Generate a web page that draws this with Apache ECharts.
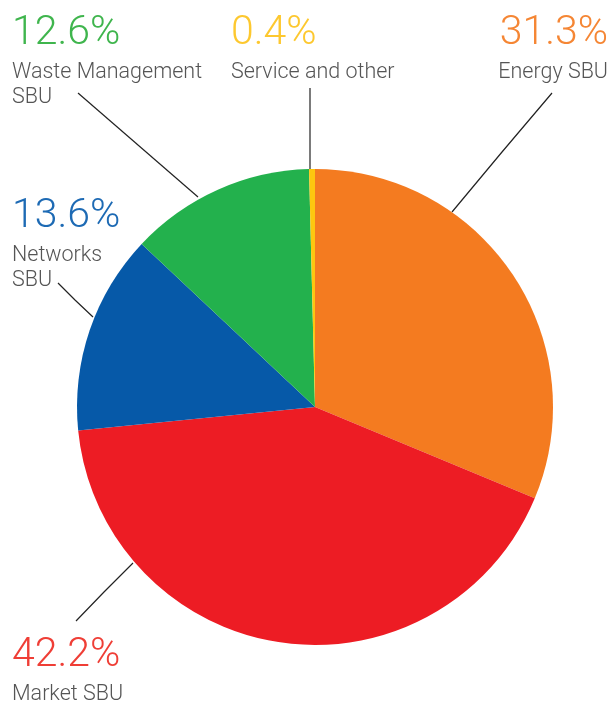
<!DOCTYPE html>
<html>
<head>
<meta charset="utf-8">
<script src="https://cdn.jsdelivr.net/npm/echarts@6/dist/echarts.min.js"></script>
<style>
  html, body { margin: 0; padding: 0; background: #fff; }
  #main { width: 614px; height: 704px; }
</style>
</head>
<body>
<div id="main"></div>
<script>
// data
const categories = ["Energy SBU", "Market SBU", "Networks SBU", "Waste Management SBU", "Service and other"];
const shares = [31.3, 42.2, 13.6, 12.6, 0.4];
const labelNames = ["Energy SBU", "Market SBU", "Networks\nSBU", "Waste Management\nSBU", "Service and other"];

const sliceColors = ["#F47B20", "#ED1C24", "#0659A8", "#23B14D", "#FDC70F"];
const textColors = ["#F58634", "#EF3E36", "#1D6AB4", "#3FB54D", "#FDC82F"];

// label placement (top-left of each label block) and leader lines
const labelPos = [
  { x: 608, y: 8, align: "right", line: [[552, 93], [502, 152], [452, 212]] },
  { x: 12, y: 630, align: "left", line: [[76, 621], [104, 592], [133, 563]] },
  { x: 12, y: 191, align: "left", line: [[58, 283], [75, 300], [93, 317]] },
  { x: 12, y: 8, align: "left", line: [[78, 93], [138, 145], [198, 197]] },
  { x: 231, y: 8, align: "left", line: [[310, 88], [310, 128], [310, 169]] }
];

const chart = echarts.init(document.getElementById("main"));

const option = {
  animation: false,
  series: [
    {
      type: "pie",
      center: [315, 407],
      radius: 238,
      startAngle: 90,
      clockwise: true,
      emphasis: { disabled: true },
      itemStyle: { borderWidth: 0 },
      label: {
        show: true,
        overflow: "none",
        formatter(p) {
          return "{p" + p.dataIndex + "|" + p.value + "%}\n{n|" + labelNames[p.dataIndex] + "}";
        },
        rich: Object.assign(
          {
            n: {
              fontFamily: "Roboto",
              fontWeight: 300,
              fontSize: 21.5,
              lineHeight: 25,
              color: "#555555"
            }
          },
          ...textColors.map((c, i) => ({
            ["p" + i]: {
              fontFamily: "Roboto",
              fontWeight: 300,
              fontSize: 41,
              lineHeight: 52,
              color: c
            }
          }))
        )
      },
      labelLine: {
        show: true,
        lineStyle: { color: "#222222", width: 1.2 }
      },
      labelLayout(params) {
        const p = labelPos[params.dataIndex];
        return {
          x: p.x,
          y: p.y,
          align: p.align,
          verticalAlign: "top",
          labelLinePoints: p.line
        };
      },
      data: categories.map((name, i) => ({
        name,
        value: shares[i],
        itemStyle: { color: sliceColors[i] }
      }))
    }
  ]
};

chart.setOption(option);
</script>
</body>
</html>
